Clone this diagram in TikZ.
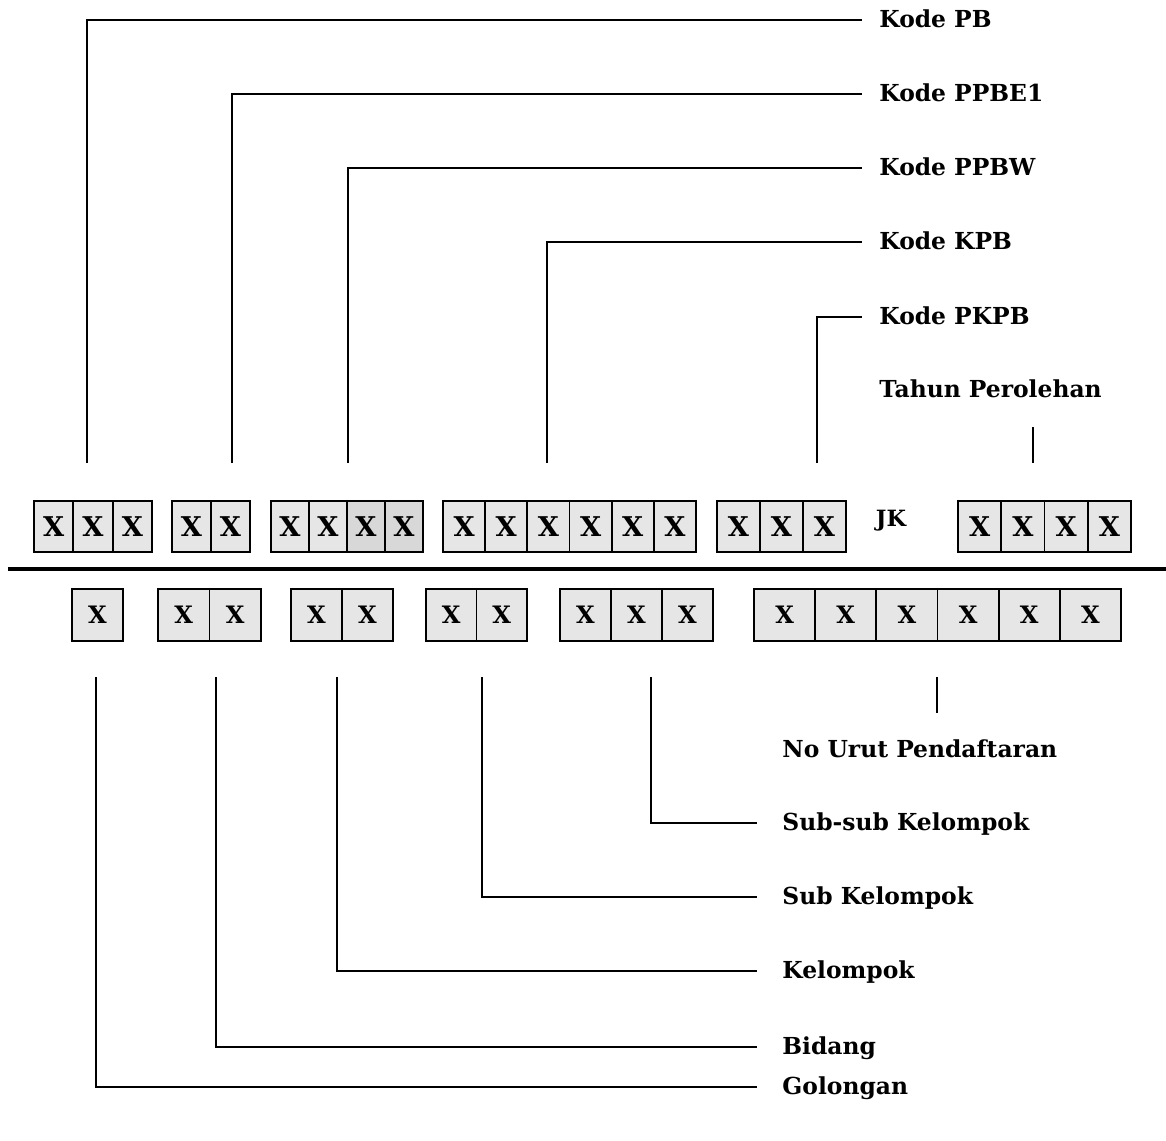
\documentclass[tikz,border=0pt]{standalone}
\usepackage{fontspec}
\setmainfont{DejaVu Serif}
\usepackage{tikz}
\usepackage{xcolor}
\definecolor{kotak}{HTML}{E6E6E6}
\definecolor{kotakgelap}{HTML}{D8D8D8}

\begin{document}
\begin{tikzpicture}[x=0.5pt,y=-0.5pt,
		sel/.style={draw,line width=0.9pt,fill=kotak,inner sep=0pt,font=\bfseries\fontsize{13.6}{16}\selectfont},
		selbawah/.style={sel,font=\bfseries\fontsize{12}{14}\selectfont},
		ket/.style={anchor=west,inner xsep=8.5pt,inner ysep=0pt,text height=9pt,text depth=1.5pt,font=\bfseries\fontsize{11.7}{14}\selectfont},
		ketbawah/.style={ket,inner xsep=12.5pt},
		garis/.style={line width=0.9pt}]
			\useasboundingbox (0,0) rectangle (1166,1140);

			\foreach \nama/\xa/\w/\n in {a/34/39.33/3, b/172/39/2, d/443/42.17/6, e/717/43/3, f/958/43.25/4}
				\foreach \i in {1,...,\n}
					\node[sel,minimum width=\w*0.5pt,minimum height=25.5pt] (\nama\i) at ({\xa+(\i-0.5)*\w},526.5) {X};
			\foreach \i/\warna in {1/kotak,2/kotak,3/kotakgelap,4/kotakgelap}
				\node[sel,fill=\warna,minimum width=19pt,minimum height=25.5pt] (c\i) at ({271+(\i-0.5)*38},526.5) {X};
			\node[font=\bfseries\fontsize{11.2}{14}\selectfont] (jk) at (891,521) {JK};

			\draw[line width=1.6pt] (8,569) -- (1166,569);

			\foreach \nama/\xa/\w/\n in {p/72/51/1, q/158/51.5/2, r/291/51/2, s/426/50.5/2, t/560/51/3, u/754/61.17/6}
				\foreach \i in {1,...,\n}
					\node[selbawah,minimum width=\w*0.5pt,minimum height=26pt] (\nama\i) at ({\xa+(\i-0.5)*\w},615) {X};

			% keterangan atas
			\coordinate (tPB) at (87,463);
			\coordinate (tPPBE) at (232,463);
			\coordinate (tPPBW) at (348,463);
			\coordinate (tKPB) at (547,463);
			\coordinate (tPKPB) at (817,463);
			\coordinate (tThnA) at (1033,427);
			\coordinate (tThnB) at (1033,463);
			\node[ket] (kPB) at (862,20) {Kode PB};
			\node[ket] (kPPBE) at (862,94) {Kode PPBE1};
			\node[ket] (kPPBW) at (862,168) {Kode PPBW};
			\node[ket] (kKPB) at (862,242) {Kode KPB};
			\node[ket] (kPKPB) at (862,317) {Kode PKPB};
			\node[ket] (kThn) at (862,390) {Tahun Perolehan};
			\draw[garis] (tPB) |- (kPB.west);
			\draw[garis] (tPPBE) |- (kPPBE.west);
			\draw[garis] (tPPBW) |- (kPPBW.west);
			\draw[garis] (tKPB) |- (kKPB.west);
			\draw[garis] (tPKPB) |- (kPKPB.west);
			\draw[garis] (tThnA) -- (tThnB);

			% keterangan bawah
			\coordinate (bGol) at (96,677);
			\coordinate (bBid) at (216,677);
			\coordinate (bKel) at (337,677);
			\coordinate (bSub) at (482,677);
			\coordinate (bSubsub) at (651,677);
			\coordinate (bUrutA) at (937,677);
			\coordinate (bUrutB) at (937,713);
			\node[ketbawah] (kUrut) at (757,750) {No Urut Pendaftaran};
			\node[ketbawah] (kSubsub) at (757,823) {Sub-sub Kelompok};
			\node[ketbawah] (kSub) at (757,897) {Sub Kelompok};
			\node[ketbawah] (kKel) at (757,971) {Kelompok};
			\node[ketbawah] (kBid) at (757,1047) {Bidang};
			\node[ketbawah] (kGol) at (757,1087) {Golongan};
			\draw[garis] (bUrutA) -- (bUrutB);
			\draw[garis] (bSubsub) |- (kSubsub.west);
			\draw[garis] (bSub) |- (kSub.west);
			\draw[garis] (bKel) |- (kKel.west);
			\draw[garis] (bBid) |- (kBid.west);
			\draw[garis] (bGol) |- (kGol.west);
		\end{tikzpicture}
\end{document}
